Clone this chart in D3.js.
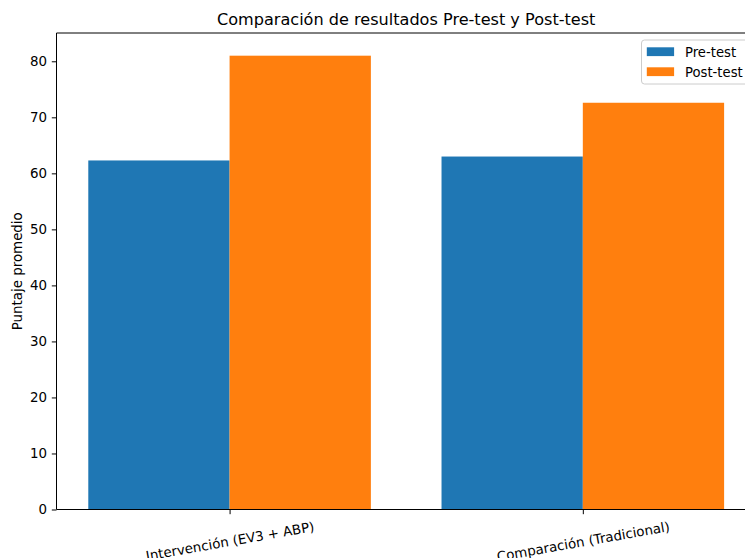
<!DOCTYPE html>
<html><head><meta charset="utf-8">
<script src="https://cdn.jsdelivr.net/npm/d3@7"></script>
<style>
body{margin:0;background:#fff;}
text{font-family:"DejaVu Sans",sans-serif;}
</style></head>
<body><svg id="c" width="745" height="558"></svg>
<script>
const categories = ["Intervención (EV3 + ABP)", "Comparación (Tradicional)"];
const seriesNames = ["Pre-test", "Post-test"];
const preTest = [62.3, 63.0];
const postTest = [81.0, 72.6];
const yTicks = [0, 10, 20, 30, 40, 50, 60, 70, 80];
const colors = ["#1f77b4", "#ff7f0e"];
const title = "Comparación de resultados Pre-test y Post-test";
const yLabel = "Puntaje promedio";

(function(){
const svg = d3.select("#c");
const mL = 56.5, mR = 755.9, mT = 33, mB = 509.5;
const fs = 13.4, tick = 4.7;
const barW = 0.4;
const maxV = d3.max([...preTest, ...postTest]);
const x = d3.scaleLinear().domain([-0.49, 1.49]).range([mL, mR]);
const y = d3.scaleLinear().domain([0, maxV * 1.05]).range([mB, mT]);

const series = [preTest, postTest];
series.forEach((vals, s) => {
  svg.append("g").selectAll("rect").data(vals).join("rect")
    .attr("x", (d, i) => x(i + (s === 0 ? -barW : 0)))
    .attr("width", x(barW) - x(0))
    .attr("y", d => y(d))
    .attr("height", d => y(0) - y(d))
    .attr("fill", colors[s]);
});

const yAxis = svg.append("g").attr("transform", `translate(${mL},0)`)
  .call(d3.axisLeft(y).tickValues(yTicks).tickSize(tick).tickPadding(tick).tickFormat(d3.format("d")));
const xAxis = svg.append("g").attr("transform", `translate(0,${mB})`)
  .call(d3.axisBottom(x).tickValues([0, 1]).tickSize(tick).tickPadding(tick).tickFormat(i => categories[i]));
[yAxis, xAxis].forEach(g => {
  g.select(".domain").remove();
  g.selectAll("line").attr("stroke", "#000").attr("stroke-width", 1);
  g.selectAll("text").attr("font-size", fs).attr("fill", "#000").attr("font-family", "DejaVu Sans");
});
xAxis.selectAll(".tick text").each(function(d) {
  const t = d3.select(this);
  t.attr("dy", null).attr("y", null).attr("dominant-baseline", "central").attr("text-anchor", "middle");
  const w = this.getComputedTextLength();
  const h = fs * 1.16;
  const a = 10 * Math.PI / 180;
  const bh = w * Math.sin(a) + h * Math.cos(a);
  const cy = 2 * tick + bh / 2;
  t.attr("transform", `translate(0,${cy}) rotate(-10)`);
});

const spine = (x1, y1, x2, y2) => svg.append("line").attr("x1", x1).attr("x2", x2).attr("y1", y1).attr("y2", y2)
  .attr("stroke", "#000").attr("stroke-width", 1);
spine(mL, mT, mL, mB); spine(mL, mB, mR, mB); spine(mL, mT, mR, mT); spine(mR, mT, mR, mB);

svg.append("text").attr("x", (mL + mR) / 2).attr("y", 25).attr("text-anchor", "middle")
  .attr("font-size", 16.1).text(title);
svg.append("text").attr("transform", `translate(21.5,${(mT + mB) / 2}) rotate(-90)`)
  .attr("text-anchor", "middle").attr("font-size", fs).text(yLabel);

const lg = svg.append("g").attr("transform", "translate(641.5,40)");
lg.append("rect").attr("x", 0).attr("y", 0).attr("width", 108).attr("height", 44).attr("rx", 3)
  .attr("fill", "#fff").attr("fill-opacity", 0.8).attr("stroke", "#ccc").attr("stroke-width", 1);
seriesNames.forEach((n, i) => {
  lg.append("rect").attr("x", 5.3).attr("y", 7.3 + i * 20).attr("width", 27.3).attr("height", 8.8).attr("fill", colors[i]);
  lg.append("text").attr("x", 43.5).attr("y", 16.6 + i * 20).attr("font-size", 13.2).text(n);
});
})();
</script></body></html>
